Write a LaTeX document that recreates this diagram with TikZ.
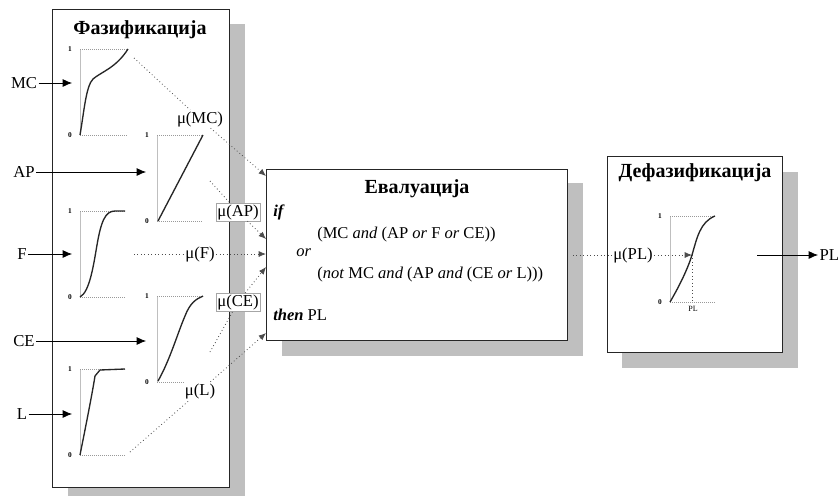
\documentclass[tikz,border=0pt]{standalone}
\usepackage{fontspec}
\setmainfont{Liberation Serif}
\usetikzlibrary{arrows.meta}
\begin{document}
\begin{tikzpicture}[x=0.75pt,y=-0.75pt,
  shadowbox/.style={fill=black!25, draw=none},
  mainbox/.style={draw=black!85, line width=0.8pt, fill=white, anchor=north west, inner sep=0pt},
  ttl/.style={font=\fontsize{15}{17}\selectfont\bfseries},
  lbl/.style={font=\fontsize{12.5}{14}\selectfont, inner sep=1pt},
  mu/.style={font=\fontsize{12.5}{14}\selectfont, inner sep=1pt, fill=white},
  mubox/.style={mu, draw=black!35, line width=0.3pt},
  tick/.style={font=\fontsize{5.5}{6}\selectfont\bfseries, inner sep=0.5pt},
  inarrow/.style={-{Latex[length=7pt,width=6pt]}, line width=0.6pt},
  dots/.style={dotted, line width=0.6pt, black!70},
  dotarrow/.style={dots, -{Latex[length=5.5pt,width=4.5pt]}},
  axisv/.style={black!25, line width=0.5pt},
  axish/.style={black!40, densely dotted, line width=0.5pt},
  curve/.style={line width=1pt, black!85},
  ev/.style={font=\fontsize{12.4}{14}\selectfont, anchor=west, inner sep=0pt}]
\useasboundingbox (0,0) rectangle (840,497);
% shadows
\fill[shadowbox] (68,24) rectangle (245,496);
\fill[shadowbox] (282,183) rectangle (583,356);
\fill[shadowbox] (622,172) rectangle (798,368);
% boxes
\node[mainbox, minimum width=132.75pt, minimum height=358.5pt] (faz) at (52,9) {};
\node[mainbox, minimum width=225.75pt, minimum height=128.25pt] (eva) at (266,169) {};
\node[mainbox, minimum width=131.25pt, minimum height=147pt] (def) at (607,156) {};
\node[ttl] (tfaz) at (140,30) {Фазификација};
\node[ttl] (teva) at (417,189) {Евалуација};
\node[ttl] (tdef) at (695,173) {Дефазификација};

% ---- plot frames
\foreach \x/\y/\w/\n in {80/49/48/mc, 157/135/46/ap, 80/211/45/f, 157/296/46/ce, 80/369/45/l, 670/216/45/pl}{
  \draw[axisv] (\x,\y) -- (\x,\y+86);
  \draw[axish] (\x,\y) -- (\x+\w,\y);
  \draw[axish] (\x,\y+86) -- (\x+\w,\y+86);
  \node[tick] (one\n) at (\x-10,\y) {1};
  \node[tick] (zero\n) at (\x-10,\y+86) {0};
}
% curves
\draw[curve] (80,135) .. controls (84,112) and (86,86) .. (93,79) .. controls (101,72) and (116,68) .. (128,49);
\draw[curve] (158,221) -- (203,135);
\draw[curve] (80,297) .. controls (90,292) and (94,262) .. (97,245) .. controls (101,222) and (105,211) .. (115,211) -- (125,211);
\draw[curve] (158,381) .. controls (170,360) and (178,332) .. (185,316) .. controls (190,303) and (196,299) .. (203,296);
\draw[curve] (80,455) .. controls (85,430) and (92,395) .. (95,376) -- (100,370) -- (125,369);
\draw[curve] (670,302) .. controls (680,285) and (688,268) .. (692,255) .. controls (697,238) and (700,222) .. (715,216);

% inputs
\node[lbl] (mc) at (24,83) {MC};
\node[lbl] (ap) at (24,172) {AP};
\node[lbl] (f) at (22,254) {F};
\node[lbl] (ce) at (24,341) {CE};
\node[lbl] (l) at (22,414) {L};
\coordinate (mcin) at (72,83);
\coordinate (apin) at (146,172);
\coordinate (fin) at (72,254);
\coordinate (cein) at (146,341);
\coordinate (lin) at (72,414);
\draw[inarrow] (mc) -- (mcin);
\draw[inarrow] (ap) -- (apin);
\draw[inarrow] (f) -- (fin);
\draw[inarrow] (ce) -- (cein);
\draw[inarrow] (l) -- (lin);

% mu labels
\node[mu] (mumc) at (200,119) {μ(MC)};
\node[mubox] (muap) at (238,212) {μ(AP)};
\node[mu] (muf) at (200,254) {μ(F)};
\node[mubox] (muce) at (238,302) {μ(CE)};
\node[mu] (mul) at (200,391) {μ(L)};
\coordinate (omc) at (134,58);
\coordinate (oap) at (210,181);
\coordinate (of) at (134,254);
\coordinate (oce) at (210,352);
\coordinate (ol) at (130,452);
\coordinate (emc) at (266,176);
\coordinate (eap) at (266,239);
\coordinate (ef) at (266,254);
\coordinate (ece) at (266,267);
\coordinate (el) at (266,333);
\draw[dots] (omc) -- (mumc);
\draw[dotarrow] (mumc) -- (emc);
\draw[dots] (oap) -- (muap);
\draw[dotarrow] (muap) -- (eap);
\draw[dots] (of) -- (muf);
\draw[dotarrow] (muf) -- (ef);
\draw[dots] (oce) -- (muce);
\draw[dotarrow] (muce) -- (ece);
\draw[dots] (ol) -- (mul);
\draw[dotarrow] (mul) -- (el);

% evaluation text
\node[ev] (if) at (273,212) {\textbf{\textit{if}}};
\node[ev] (r1) at (317,235) {(MC \textit{and} (AP \textit{or} F \textit{or} CE))};
\node[ev] (or) at (296,253) {\textit{or}};
\node[ev] (r2) at (317,275) {(\textit{not} MC \textit{and} (AP \textit{and} (CE \textit{or} L)))};
\node[ev] (then) at (273,315) {\textbf{\textit{then}} PL};

% defuzzification
\node[mu] (mupl) at (633,255) {μ(PL)};
\coordinate (eout) at (573,255);
\coordinate (plpt) at (692,255);
\coordinate (plbot) at (692,302);
\draw[dots] (eout) -- (mupl);
\draw[dotarrow] (mupl) -- (plpt);
\draw[dots] (plpt) -- (plbot);
\node[tick, font=\fontsize{6}{7}\selectfont] (plx) at (693,309) {PL};
\coordinate (outs) at (757,255);
\node[lbl, anchor=west] (plout) at (818,255) {PL};
\draw[inarrow] (outs) -- (plout);
\end{tikzpicture}
\end{document}
